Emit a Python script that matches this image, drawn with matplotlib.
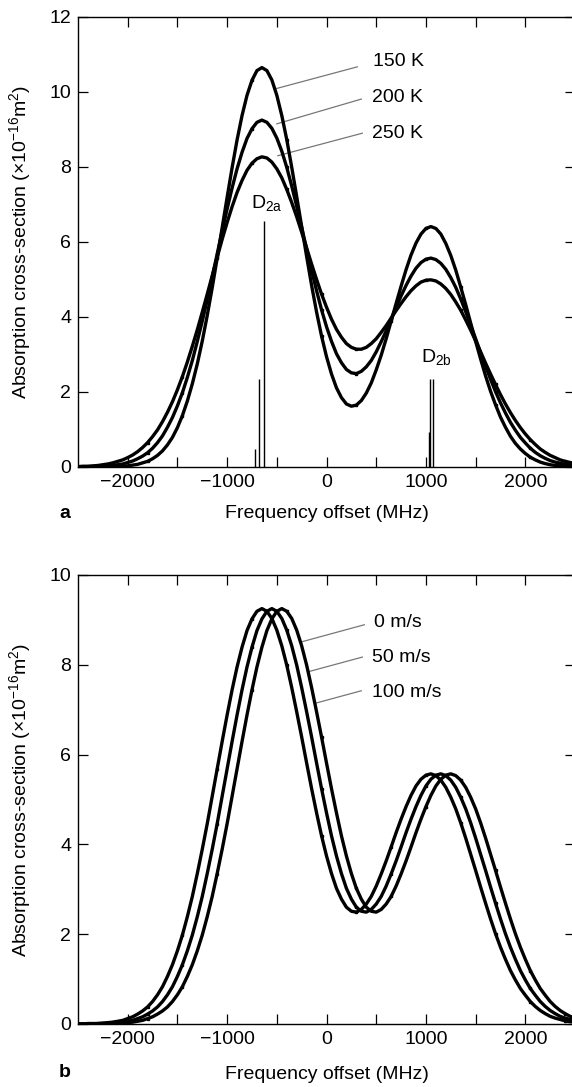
import matplotlib
matplotlib.use("Agg")
import matplotlib.pyplot as plt
from matplotlib.ticker import MultipleLocator, FixedLocator

plt.rcParams['font.family'] = ['Liberation Sans', 'DejaVu Sans']
plt.rcParams['mathtext.fontset'] = 'custom'
plt.rcParams['mathtext.rm'] = 'Liberation Sans'
plt.rcParams['mathtext.it'] = 'Liberation Sans:italic'
plt.rcParams['mathtext.bf'] = 'Liberation Sans:bold'

# ---------------- data ----------------
freq = list(range(-2500, 2501, 50))  # MHz sampling grid

t150 = [0.00, 0.00, 0.00, 0.00, 0.00, 0.00, 0.01, 0.01, 0.01, 0.02,
        0.03, 0.05, 0.07, 0.11, 0.15, 0.22, 0.31, 0.43, 0.59, 0.79,
        1.05, 1.37, 1.76, 2.22, 2.75, 3.36, 4.04, 4.78, 5.57, 6.38,
        7.19, 7.98, 8.72, 9.37, 9.91, 10.31, 10.57, 10.65, 10.57, 10.32,
        9.91, 9.37, 8.73, 7.99, 7.21, 6.41, 5.61, 4.84, 4.13, 3.49,
        2.94, 2.48, 2.11, 1.85, 1.68, 1.62, 1.65, 1.77, 1.97, 2.24,
        2.59, 2.98, 3.42, 3.89, 4.36, 4.82, 5.26, 5.65, 5.97, 6.21,
        6.36, 6.41, 6.36, 6.21, 5.96, 5.64, 5.25, 4.80, 4.33, 3.84,
        3.35, 2.88, 2.43, 2.02, 1.66, 1.33, 1.06, 0.82, 0.63, 0.48,
        0.36, 0.26, 0.19, 0.13, 0.09, 0.06, 0.04, 0.03, 0.02, 0.01,
        0.01]

t200 = [0.00, 0.00, 0.01, 0.01, 0.01, 0.02, 0.03, 0.04, 0.06, 0.08,
        0.12, 0.16, 0.22, 0.29, 0.38, 0.50, 0.65, 0.83, 1.06, 1.32,
        1.63, 1.98, 2.39, 2.84, 3.35, 3.89, 4.46, 5.07, 5.68, 6.29,
        6.88, 7.44, 7.95, 8.39, 8.76, 9.02, 9.19, 9.25, 9.19, 9.03,
        8.77, 8.42, 7.99, 7.49, 6.95, 6.39, 5.81, 5.24, 4.70, 4.19,
        3.74, 3.35, 3.02, 2.78, 2.60, 2.51, 2.49, 2.55, 2.67, 2.84,
        3.07, 3.34, 3.63, 3.94, 4.26, 4.56, 4.84, 5.09, 5.30, 5.45,
        5.54, 5.57, 5.53, 5.43, 5.27, 5.05, 4.79, 4.48, 4.14, 3.78,
        3.42, 3.05, 2.69, 2.34, 2.01, 1.71, 1.44, 1.19, 0.98, 0.79,
        0.64, 0.50, 0.39, 0.30, 0.23, 0.17, 0.13, 0.10, 0.07, 0.05,
        0.04]

t250 = [0.01, 0.02, 0.02, 0.03, 0.04, 0.06, 0.08, 0.11, 0.15, 0.19,
        0.25, 0.32, 0.41, 0.52, 0.65, 0.81, 0.99, 1.21, 1.46, 1.74,
        2.06, 2.41, 2.80, 3.22, 3.66, 4.13, 4.61, 5.10, 5.59, 6.07,
        6.52, 6.94, 7.32, 7.64, 7.91, 8.10, 8.22, 8.27, 8.24, 8.13,
        7.95, 7.71, 7.40, 7.05, 6.67, 6.26, 5.84, 5.41, 5.00, 4.61,
        4.26, 3.94, 3.67, 3.46, 3.29, 3.19, 3.14, 3.14, 3.19, 3.29,
        3.42, 3.59, 3.77, 3.97, 4.17, 4.36, 4.54, 4.70, 4.83, 4.93,
        4.98, 4.99, 4.96, 4.88, 4.76, 4.60, 4.40, 4.18, 3.92, 3.65,
        3.36, 3.07, 2.77, 2.48, 2.20, 1.93, 1.68, 1.45, 1.24, 1.05,
        0.88, 0.73, 0.60, 0.48, 0.39, 0.31, 0.25, 0.19, 0.15, 0.12,
        0.09]

v0 = [0.00, 0.00, 0.01, 0.01, 0.01, 0.02, 0.03, 0.04, 0.06, 0.08,
      0.12, 0.16, 0.22, 0.29, 0.38, 0.50, 0.65, 0.83, 1.06, 1.32,
      1.63, 1.98, 2.39, 2.84, 3.35, 3.89, 4.46, 5.07, 5.68, 6.29,
      6.88, 7.44, 7.95, 8.39, 8.76, 9.02, 9.19, 9.25, 9.19, 9.03,
      8.77, 8.42, 7.99, 7.49, 6.95, 6.39, 5.81, 5.24, 4.70, 4.19,
      3.74, 3.35, 3.02, 2.78, 2.60, 2.51, 2.49, 2.55, 2.67, 2.84,
      3.07, 3.34, 3.63, 3.94, 4.26, 4.56, 4.84, 5.09, 5.30, 5.45,
      5.54, 5.57, 5.53, 5.43, 5.27, 5.05, 4.79, 4.48, 4.14, 3.78,
      3.42, 3.05, 2.69, 2.34, 2.01, 1.71, 1.44, 1.19, 0.98, 0.79,
      0.64, 0.50, 0.39, 0.30, 0.23, 0.17, 0.13, 0.10, 0.07, 0.05,
      0.04]

v50 = [0.00, 0.00, 0.00, 0.00, 0.01, 0.01, 0.01, 0.02, 0.03, 0.04,
       0.06, 0.08, 0.12, 0.16, 0.22, 0.29, 0.38, 0.50, 0.65, 0.83,
       1.06, 1.32, 1.63, 1.98, 2.39, 2.84, 3.35, 3.89, 4.46, 5.07,
       5.68, 6.29, 6.88, 7.44, 7.95, 8.39, 8.76, 9.02, 9.19, 9.25,
       9.19, 9.03, 8.77, 8.42, 7.99, 7.49, 6.95, 6.39, 5.81, 5.24,
       4.70, 4.19, 3.74, 3.35, 3.02, 2.78, 2.60, 2.51, 2.49, 2.55,
       2.67, 2.84, 3.07, 3.34, 3.63, 3.94, 4.26, 4.56, 4.84, 5.09,
       5.30, 5.45, 5.54, 5.57, 5.53, 5.43, 5.27, 5.05, 4.79, 4.48,
       4.14, 3.78, 3.42, 3.05, 2.69, 2.34, 2.01, 1.71, 1.44, 1.19,
       0.98, 0.79, 0.64, 0.50, 0.39, 0.30, 0.23, 0.17, 0.13, 0.10,
       0.07]

v100 = [0.00, 0.00, 0.00, 0.00, 0.00, 0.00, 0.01, 0.01, 0.01, 0.02,
        0.03, 0.04, 0.06, 0.08, 0.12, 0.16, 0.22, 0.29, 0.38, 0.50,
        0.65, 0.83, 1.06, 1.32, 1.63, 1.98, 2.39, 2.84, 3.35, 3.89,
        4.46, 5.07, 5.68, 6.29, 6.88, 7.44, 7.95, 8.39, 8.76, 9.02,
        9.19, 9.25, 9.19, 9.03, 8.77, 8.42, 7.99, 7.49, 6.95, 6.39,
        5.81, 5.24, 4.70, 4.19, 3.74, 3.35, 3.02, 2.78, 2.60, 2.51,
        2.49, 2.55, 2.67, 2.84, 3.07, 3.34, 3.63, 3.94, 4.26, 4.56,
        4.84, 5.09, 5.30, 5.45, 5.54, 5.57, 5.53, 5.43, 5.27, 5.05,
        4.79, 4.48, 4.14, 3.78, 3.42, 3.05, 2.69, 2.34, 2.01, 1.71,
        1.44, 1.19, 0.98, 0.79, 0.64, 0.50, 0.39, 0.30, 0.23, 0.17,
        0.13]

temp_labels = ["150 K", "200 K", "250 K"]
vel_labels = ["0 m/s", "50 m/s", "100 m/s"]

# hyperfine components (position MHz, relative height)
d2a_pos = [-720, -680, -630]
d2a_h = [0.47, 2.35, 6.55]
d2b_pos = [1027, 1037, 1070]
d2b_h = [0.94, 2.35, 2.35]

xticks_major = [-2000, -1000, 0, 1000, 2000]
xticks_minor = [-1500, -500, 500, 1500]

# ---------------- figure ----------------
fig = plt.figure(figsize=(5.72, 10.87), dpi=100)
axA = fig.add_axes([0.1364, 0.5704, 0.8689, 0.4140])
axB = fig.add_axes([0.1364, 0.0580, 0.8689, 0.4131])

FS = 14
curve_kw = dict(color='black', lw=2.4, marker='s', ms=2.0, markevery=7,
                solid_joinstyle='round', zorder=3)
lead_kw = dict(color='#777777', lw=0.9, zorder=2)

def style(ax, ymax):
    ax.set_xlim(-2500, 2500)
    ax.set_ylim(0, ymax)
    ax.xaxis.set_major_locator(FixedLocator(xticks_major))
    ax.xaxis.set_minor_locator(FixedLocator(xticks_minor))
    ax.yaxis.set_major_locator(MultipleLocator(2))
    ax.tick_params(which='both', direction='in', top=True, right=True,
                   length=7, width=0.9, labelsize=FS, pad=5)
    for s in ax.spines.values():
        s.set_linewidth(1.0)
    ax.set_xlabel("Frequency offset (MHz)", fontsize=FS)
    ax.set_ylabel("Absorption cross-section (\u00d710$^{-16}$m$^{2}$)", fontsize=FS)
    ax.yaxis.set_label_coords(-0.0905, 0.5)

# ---- panel a ----
style(axA, 12)
for y in (t150, t200, t250):
    axA.plot(freq, y, **curve_kw)
axA.vlines(d2a_pos, 0, d2a_h, color='black', lw=1.0, zorder=2)
axA.vlines(d2b_pos, 0, d2b_h, color='black', lw=1.0, zorder=2)
axA.text(-605, 7.04, r"D$_{\rm 2a}$", fontsize=FS, ha='center', va='center')
axA.text(1105, 2.93, r"D$_{\rm 2b}$", fontsize=FS, ha='center', va='center')

leadA_start = [(310, 10.67), (350, 9.81), (360, 8.90)]
leadA_end = [(-520, 10.08), (-500, 9.15), (-490, 8.30)]
labA_pos = [(470, 10.80), (460, 9.84), (460, 8.90)]
for (x0, y0), (x1, y1), (lx, ly), lab in zip(leadA_start, leadA_end, labA_pos, temp_labels):
    axA.plot([x0, x1], [y0, y1], **lead_kw)
    axA.text(lx, ly, lab, fontsize=FS, ha='left', va='center')
axA.xaxis.set_label_coords(0.5, -0.0844)

# ---- panel b ----
style(axB, 10)
for y in (v0, v50, v100):
    axB.plot(freq, y, **curve_kw)
leadB_start = [(380, 8.89), (360, 8.17), (350, 7.42)]
leadB_end = [(-250, 8.51), (-190, 7.84), (-100, 7.15)]
labB_pos = [(480, 8.95), (460, 8.17), (460, 7.39)]
for (x0, y0), (x1, y1), (lx, ly), lab in zip(leadB_start, leadB_end, labB_pos, vel_labels):
    axB.plot([x0, x1], [y0, y1], **lead_kw)
    axB.text(lx, ly, lab, fontsize=FS, ha='left', va='center')
axB.xaxis.set_label_coords(0.5, -0.0935)

fig.text(0.1136, 0.528, "a", fontsize=FS, fontweight='bold', ha='center', va='center')
fig.text(0.1136, 0.0129, "b", fontsize=FS, fontweight='bold', ha='center', va='center')

fig.savefig("out.png", dpi=100)
